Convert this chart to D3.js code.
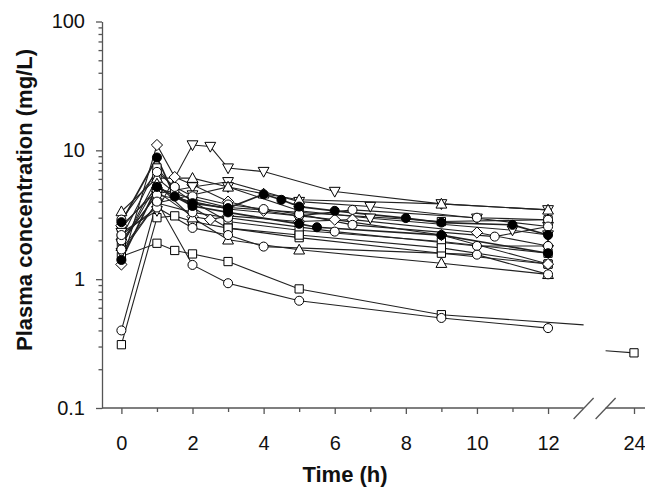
<!DOCTYPE html>
<html><head><meta charset="utf-8">
<script src="https://cdn.jsdelivr.net/npm/d3@7"></script>
<style>body{margin:0;background:#fff}svg{display:block}</style>
</head><body><svg id="c" width="645" height="489"></svg>
<script>
// ---- data ----
const xTicksMajor = [0, 2, 4, 6, 8, 10, 12, 24];
const xTicksMinor = [1, 3, 5, 7, 9, 11];
const yTicksMajor = [0.1, 1, 10, 100];
const yTickLabels = ["0.1", "1", "10", "100"];
const yTicksMinor = [0.2,0.3,0.4,0.5,0.6,0.7,0.8,0.9,2,3,4,5,6,7,8,9,20,30,40,50,60,70,80,90];

// each subject: [time (h), plasma concentration (mg/L)]
const s01 = [[0,1.30],[1,11.0],[1.5,6.2],[2,5.4],[3,4.0],[4,3.4],[5,3.1],[6,2.9],[9,2.2],[12,1.31]];
const s02 = [[0,2.77],[1,8.8],[1.5,4.38],[2,3.89],[3,3.56],[4,4.57],[4.5,4.13],[5,3.66],[6,3.39],[8,2.98],[9,2.75],[11,2.64],[12,2.2]];
const s03 = [[0,1.41],[1,5.2],[2,3.7],[3,3.3],[5,2.69],[5.5,2.53],[9,2.2],[12,1.59]];
const s04 = [[0,2.3],[1,3.4],[2,11.0],[2.5,10.7],[3,7.28],[4,6.84],[6,4.79],[9,3.84],[12,3.45]];
const s05 = [[0,3.35],[1,6.1],[2,6.08],[3,5.2],[4,4.6],[5,4.13],[9,3.84],[12,3.45]];
const s06 = [[0,1.9],[1,4.6],[2,5.2],[3,5.7],[5,4.0],[7,3.66],[10,2.97],[12,2.56]];
const s07 = [[0,1.6],[1,3.9],[2,4.5],[3,5.2],[5,3.4],[7,2.97],[11,2.4],[12,2.2]];
const s08 = [[0,2.1],[1,7.3],[1.5,5.0],[2,4.0],[3,2.8],[5,2.4],[9,1.96],[12,1.59]];
const s09 = [[0,1.8],[1,6.1],[2,3.6],[3,2.49],[5,2.1],[9,1.59],[12,1.31]];
const s10 = [[0,2.5],[1,5.1],[2,4.2],[3,3.6],[5,3.3],[9,2.80],[12,2.89]];
const s11 = [[0,2.0],[1,4.5],[2,4.0],[3,3.5],[5,3.1],[6.5,3.45],[10,3.0],[12,2.89]];
const s12 = [[0,1.7],[1,3.9],[2,3.3],[3,3.0],[6,2.34],[10,1.81],[12,1.81]];
const s13 = [[0,2.2],[1,3.6],[2,2.5],[3,2.2],[4,1.79],[10,1.55],[12,1.09]];
const s14 = [[0,1.8],[1,5.5],[2,3.0],[3,2.02],[5,1.69],[9,1.33],[12,1.09]];
const s15 = [[0,1.5],[1,1.9],[1.5,1.67],[2,1.57],[3,1.37],[5,0.84],[9,0.53],[24,0.268]];
const s16 = [[0,0.31],[1,3.0],[1.5,3.1],[2,2.8],[3,2.49],[5,2.2],[9,1.75],[12,1.31]];
const s17 = [[0,0.40],[1,4.0],[2,1.29],[3,0.93],[5,0.68],[9,0.50],[12,0.417]];
const s18 = [[0,2.6],[1,4.8],[2,3.06],[2.5,2.9],[3,3.1],[5,2.8],[6.5,2.9],[10,2.3],[12,1.81]];
const s19 = [[0,2.9],[1,6.8],[1.5,5.2],[2,4.4],[3,3.8],[4,3.5],[5,3.2],[6.5,2.64],[10.5,2.14],[12,2.56]];

const seriesList   = [s01, s02, s03, s04, s05, s06, s07, s08, s09, s10, s11, s12, s13, s14, s15, s16, s17, s18, s19];
const seriesShape  = ["diamond","circle","circle","triDown","tri","triDown","triDown","square","square","square","circle","circle","circle","tri","square","square","circle","diamond","circle"];
const seriesFilled = [false,true,true,false,false,false,false,false,false,false,false,false,false,false,false,false,false,false,false];

// ---- layout ----
const svg = d3.select("#c");
const FONT = "'Liberation Sans', Arial, sans-serif";
const breakA = 583.6, breakB = 605.6;
const x = d3.scaleLinear().domain([0, 13, 23.2, 24]).range([121.4, breakA, breakB, 634]);
const y = d3.scaleLog().domain([0.1, 100]).range([408, 21.5]);
const axX = 102, axY = 408;

// ---- lines ----
function logInterp(p, q, t) {
  const f = (t - p[0]) / (q[0] - p[0]);
  return Math.pow(10, Math.log10(p[1]) + f * (Math.log10(q[1]) - Math.log10(p[1])));
}
const gLines = svg.append("g");
const lineGen = d3.line().x(d => x(d[0])).y(d => y(d[1]));
seriesList.forEach((s, i) => {
  const before = s.filter(d => d[0] <= 12);
  const after = s.filter(d => d[0] >= 24);
  const w = seriesFilled[i] ? 1.7 : 1.1;
  const pre = before.slice();
  if (after.length && before.length) {
    const p = before[before.length - 1], q = after[0];
    pre.push([13, logInterp(p, q, 13)]);
    after.unshift([23.2, logInterp(p, q, 23.2)]);
  }
  [pre, after].forEach(seg => {
    if (seg.length > 1)
      gLines.append("path").attr("d", lineGen(seg)).attr("fill", "none")
        .attr("stroke", "#222").attr("stroke-width", w);
  });
});

// ---- markers ----
function symPath(shape) {
  if (shape === "circle") return d3.symbol(d3.symbolCircle, 64)();
  if (shape === "square") return d3.symbol(d3.symbolSquare, 68)();
  if (shape === "diamond") return "M0,-5.6L5.6,0L0,5.6L-5.6,0Z";
  if (shape === "tri") return "M0,-5.6L5.4,4.2L-5.4,4.2Z";
  if (shape === "triDown") return "M0,5.6L5.4,-4.2L-5.4,-4.2Z";
}
const order = {square: 0, diamond: 1, triDown: 2, tri: 3, circle: 4};
const idx = seriesList.map((s, i) => i).sort((a, b) =>
  (order[seriesShape[a]] + (seriesFilled[a] ? 5 : 0)) - (order[seriesShape[b]] + (seriesFilled[b] ? 5 : 0)));
const gMarks = svg.append("g");
idx.forEach(i => {
  gMarks.selectAll(null).data(seriesList[i]).enter().append("path")
    .attr("d", symPath(seriesShape[i]))
    .attr("transform", d => `translate(${x(d[0])},${y(d[1])})`)
    .attr("fill", seriesFilled[i] ? "#000" : "#fff")
    .attr("stroke", "#000").attr("stroke-width", 1);
});

// ---- axes ----
const yMaj = d3.axisLeft(y).tickValues(yTicksMajor).tickSize(6).tickSizeOuter(0)
  .tickPadding(11).tickFormat((d, i) => yTickLabels[i]);
const gy = svg.append("g").attr("transform", `translate(${axX},0)`).call(yMaj);
const yMin = d3.axisLeft(y).tickValues(yTicksMinor).tickSize(3.5).tickFormat("");
const gy2 = svg.append("g").attr("transform", `translate(${axX},0)`).call(yMin);
gy2.select(".domain").remove();

const xMaj = d3.axisBottom(x).tickValues(xTicksMajor).tickSize(6).tickSizeOuter(0).tickPadding(22);
const gx = svg.append("g").attr("transform", `translate(0,${axY})`).call(xMaj);
gx.select(".domain").remove();
const xMin = d3.axisBottom(x).tickValues(xTicksMinor).tickSize(4).tickFormat("");
const gx2 = svg.append("g").attr("transform", `translate(0,${axY})`).call(xMin);
gx2.select(".domain").remove();

[gy, gy2, gx, gx2].forEach(g => {
  g.selectAll("line, path").attr("stroke", "#555").attr("stroke-width", 1.3);
  g.selectAll("text").attr("font-family", FONT).attr("font-size", 20).attr("fill", "#111");
});

// x axis line with break
const gAx = svg.append("g").attr("stroke", "#555").attr("stroke-width", 1.3);
gAx.append("line").attr("x1", axX).attr("x2", breakA).attr("y1", axY).attr("y2", axY);
gAx.append("line").attr("x1", breakB).attr("x2", 645).attr("y1", axY).attr("y2", axY);
[breakA, breakB].forEach(cx => {
  gAx.append("line").attr("x1", cx - 10).attr("y1", axY + 11).attr("x2", cx + 10).attr("y2", axY - 10);
});

// titles
svg.append("text").attr("x", 345).attr("y", 482).attr("text-anchor", "middle")
  .attr("font-family", FONT).attr("font-weight", "bold").attr("font-size", 22).attr("fill", "#111")
  .text("Time (h)");
svg.append("text").attr("transform", "translate(32,200) rotate(-90)").attr("text-anchor", "middle")
  .attr("font-family", FONT).attr("font-weight", "bold").attr("font-size", 22).attr("fill", "#111")
  .text("Plasma concentration (mg/L)");
</script></body></html>
